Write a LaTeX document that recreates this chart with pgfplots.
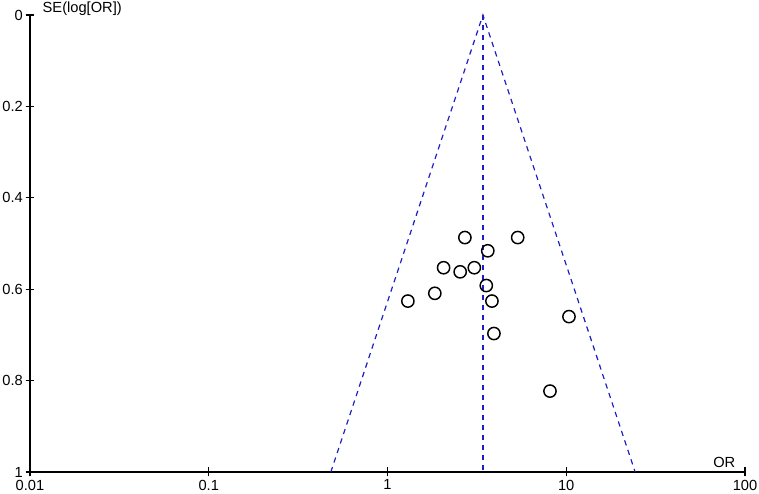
\documentclass[border=0pt]{standalone}
\usepackage{pgfplots}
\pgfplotsset{compat=1.18}
\usepackage{fontspec}
\setmainfont{Liberation Sans}
\definecolor{funnel}{RGB}{30,30,200}
\begin{document}
\begin{tikzpicture}
\begin{axis}[
  scale only axis, width=536.25pt, height=342.75pt,
  xmode=log, xmin=0.01, xmax=100, ymin=0, ymax=1, y dir=reverse,
  axis x line*=bottom, axis y line*=left,
  xtick={0.01,0.1,1,10,100}, xticklabels={0.01,0.1,1,10,100},
  ytick={0,0.2,0.4,0.6,0.8,1}, yticklabels={0,0.2,0.4,0.6,0.8,1},
  xminorticks=false, yminorticks=false,
  /pgf/number format/assume math mode=true,
  tick align=center, major tick length=6.75pt,
  tick style={black, line width=0.9pt},
  axis line style={black, line width=1.1pt, -},
  tick label style={font=\fontsize{11}{13}\selectfont},
  xticklabel style={yshift=1pt},
  yticklabel style={xshift=1.5pt},
  clip=false,
]
\addplot[funnel, line width=0.9pt, dash pattern=on 4pt off 3.5pt] coordinates {(0.482,1) (3.42,0) (24.3,1)};
\addplot[funnel, line width=0.9pt, dash pattern=on 4pt off 3.5pt] coordinates {(3.42,0) (3.42,1)};
\addplot[only marks, mark=o, mark size=4.6pt, black, line width=1.1pt] table {
x y
2.71 0.487
5.35 0.487
3.64 0.516
2.06 0.553
2.55 0.562
3.06 0.553
3.57 0.592
1.84 0.609
1.30 0.626
3.84 0.626
10.36 0.660
3.94 0.697
8.11 0.823
};
\coordinate (bl) at (axis cs:0.01,1);
\coordinate (tr) at (axis cs:100,0);
\node[anchor=base west, font=\fontsize{11}{13}\selectfont] at ([shift={(6pt,1.5pt)}]axis cs:0.01,0) {SE(log[OR])};
\node[anchor=base east, font=\fontsize{11}{13}\selectfont] at ([shift={(-3.75pt,3pt)}]axis cs:100,1) {OR};
\end{axis}
\pgfresetboundingbox
\path[use as bounding box] ([shift={(-22.5pt,-16.5pt)}]bl) rectangle ([shift={(10.5pt,11.25pt)}]tr);
\end{tikzpicture}
\end{document}
